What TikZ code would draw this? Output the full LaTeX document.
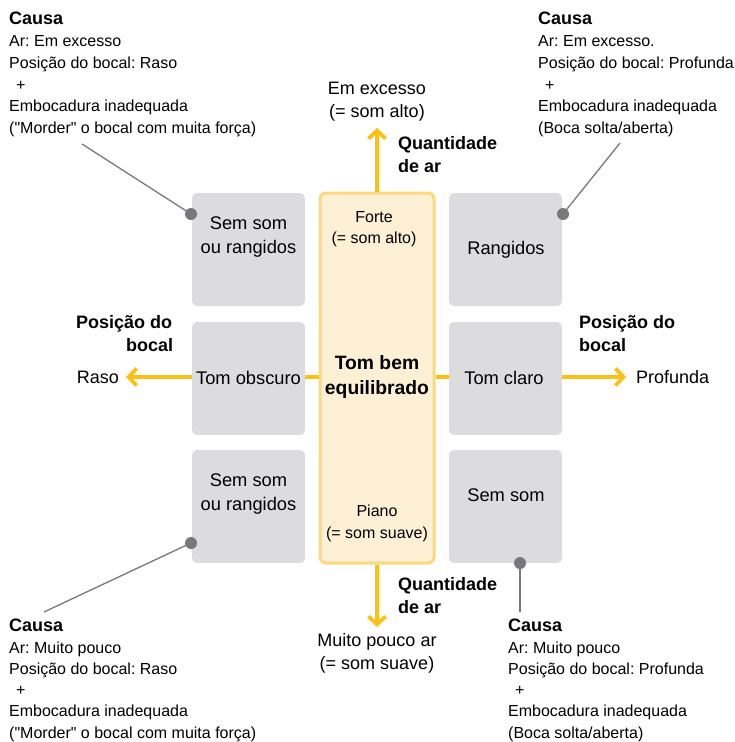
\documentclass[tikz,border=0pt]{standalone}
\usepackage{fontspec}
\setmainfont{Liberation Sans}[Ligatures=TeXOff]
\usetikzlibrary{arrows.meta}
\frenchspacing
\definecolor{boxgray}{RGB}{220,220,222}
\definecolor{ctrfill}{RGB}{253,240,212}
\definecolor{ctrdraw}{RGB}{253,216,125}
\definecolor{arrowc}{RGB}{252,192,22}
\definecolor{callc}{RGB}{120,120,124}
\tikzset{
  graybox/.style={fill=boxgray, rounded corners=5pt, draw=none},
  ctrbox/.style={fill=ctrfill, draw=ctrdraw, line width=3pt, rounded corners=6pt},
  bigarrow/.style={draw=arrowc, line width=3.8pt, -{Straight Barb[length=8pt,width=17pt,line width=3.8pt]}},
  callout/.style={draw=callc, line width=1.3pt},
  calldot/.style={fill=callc, circle, inner sep=0pt, minimum size=12pt},
  causetext/.style={align=left, inner sep=0pt, anchor=north west, font=\fontsize{16}{21.8}\selectfont},
  causetextb/.style={align=left, inner sep=0pt, anchor=north west, font=\fontsize{16}{21.3}\selectfont},
  boxtext/.style={align=center, inner sep=0pt, font=\fontsize{18.3}{24}\selectfont},
  smalltext/.style={align=center, inner sep=0pt, font=\fontsize{16}{21.5}\selectfont},
  boldlabel/.style={align=left, inner sep=0pt, font=\bfseries\fontsize{18}{23}\selectfont},
  plaintext/.style={align=center, inner sep=0pt, font=\fontsize{18}{22.5}\selectfont},
}
\newcommand{\causahead}{{\bfseries\fontsize{18}{21.8}\selectfont Causa}}
\newcommand{\dq}{\char34\relax}
\begin{document}
\begin{tikzpicture}[x=1pt,y=-1pt]
\useasboundingbox (0,0) rectangle (734,742);

% coordinates for arrow ends
\coordinate (upTip) at (377,128);
\coordinate (downTip) at (377,627);
\coordinate (leftTip) at (126,377);
\coordinate (rightTip) at (626,377);

% center box
\node[ctrbox, minimum width=114pt, minimum height=370pt, inner sep=0pt] (ctr) at (377,378) {};

% arrows (behind the gray boxes)
\draw[bigarrow] (ctr.north) -- (upTip);
\draw[bigarrow] (ctr.south) -- (downTip);
\draw[bigarrow] (ctr.west |- 0,377) -- (leftTip);
\draw[bigarrow] (ctr.east |- 0,377) -- (rightTip);

% gray boxes
\node[graybox, minimum width=113pt, minimum height=113pt, inner sep=0pt] (tl) at (248.5,249.5) {};
\node[graybox, minimum width=113pt, minimum height=113pt, inner sep=0pt] (ml) at (248.5,378.5) {};
\node[graybox, minimum width=113pt, minimum height=113pt, inner sep=0pt] (bl) at (248.5,506.5) {};
\node[graybox, minimum width=113pt, minimum height=113pt, inner sep=0pt] (tr) at (505.5,249.5) {};
\node[graybox, minimum width=113pt, minimum height=113pt, inner sep=0pt] (mr) at (505.5,378.5) {};
\node[graybox, minimum width=113pt, minimum height=113pt, inner sep=0pt] (br) at (505.5,506.5) {};

% gray box texts
\node[boxtext] (tlt) at (248.5,237.5) {Sem som\\ou rangidos};
\node[boxtext] (mlt) at (248.5,377.5) {Tom obscuro};
\node[boxtext] (blt) at (248.5,494.5) {Sem som\\ou rangidos};
\node[boxtext] (trt) at (506,249.5) {Rangidos};
\node[boxtext] (mrt) at (504,377.5) {Tom claro};
\node[boxtext] (brt) at (506,495.5) {Sem som};

% center texts
\node[smalltext] (forte) at (374,229) {Forte\\(= som alto)};
\node[boxtext, font=\bfseries\fontsize{19.3}{25}\selectfont] (tom) at (377,377) {Tom bem\\equilibrado};
\node[smalltext] (piano) at (377,523.5) {Piano\\(= som suave)};

% arrow end labels
\node[plaintext] (emex) at (377,101.5) {Em excesso\\(= som alto)};
\node[plaintext] (mpouco) at (377,653.5) {Muito pouco ar\\(= som suave)};
\node[plaintext, anchor=east] (raso) at (119,377.5) {Raso};
\node[plaintext, anchor=west] (prof) at (636,377.5) {Profunda};

% bold axis labels
\node[boldlabel, anchor=west] (qar1) at (398,154.5) {Quantidade\\de ar};
\node[boldlabel, anchor=west] (qar2) at (398,595.5) {Quantidade\\de ar};
\node[boldlabel, anchor=west] (pb1) at (76,333.5) {Posição do\\\hspace*{50pt}bocal};
\node[boldlabel, anchor=west] (pb2) at (579,333.5) {Posição do\\bocal};

% cause texts
\node[causetext] (c1) at (9,12) {\causahead\\Ar: Em excesso\\Posição do bocal: Raso\\\hspace*{7pt}+\\Embocadura inadequada\\(\dq Morder\dq{} o bocal com muita força)};
\node[causetext] (c2) at (538,12) {\causahead\\Ar: Em excesso.\\Posição do bocal: Profunda\\\hspace*{7pt}+\\Embocadura inadequada\\(Boca solta/aberta)};
\node[causetextb] (c3) at (9,619) {\causahead\\Ar: Muito pouco\\Posição do bocal: Raso\\\hspace*{7pt}+\\Embocadura inadequada\\(\dq Morder\dq{} o bocal com muita força)};
\node[causetextb] (c4) at (508,619) {\causahead\\Ar: Muito pouco\\Posição do bocal: Profunda\\\hspace*{7pt}+\\Embocadura inadequada\\(Boca solta/aberta)};

% callouts
\coordinate (e1) at (82,144);
\coordinate (e2) at (620,143);
\coordinate (e3) at (44,612);
\coordinate (e4) at (520,612);
\node[calldot] (d1) at (191,214) {};
\node[calldot] (d2) at (563,214) {};
\node[calldot] (d3) at (191,543) {};
\node[calldot] (d4) at (520,563) {};
\draw[callout] (d1.center) -- (e1);
\draw[callout] (d2.center) -- (e2);
\draw[callout] (d3.center) -- (e3);
\draw[callout] (d4.center) -- (e4);
\end{tikzpicture}
\end{document}
